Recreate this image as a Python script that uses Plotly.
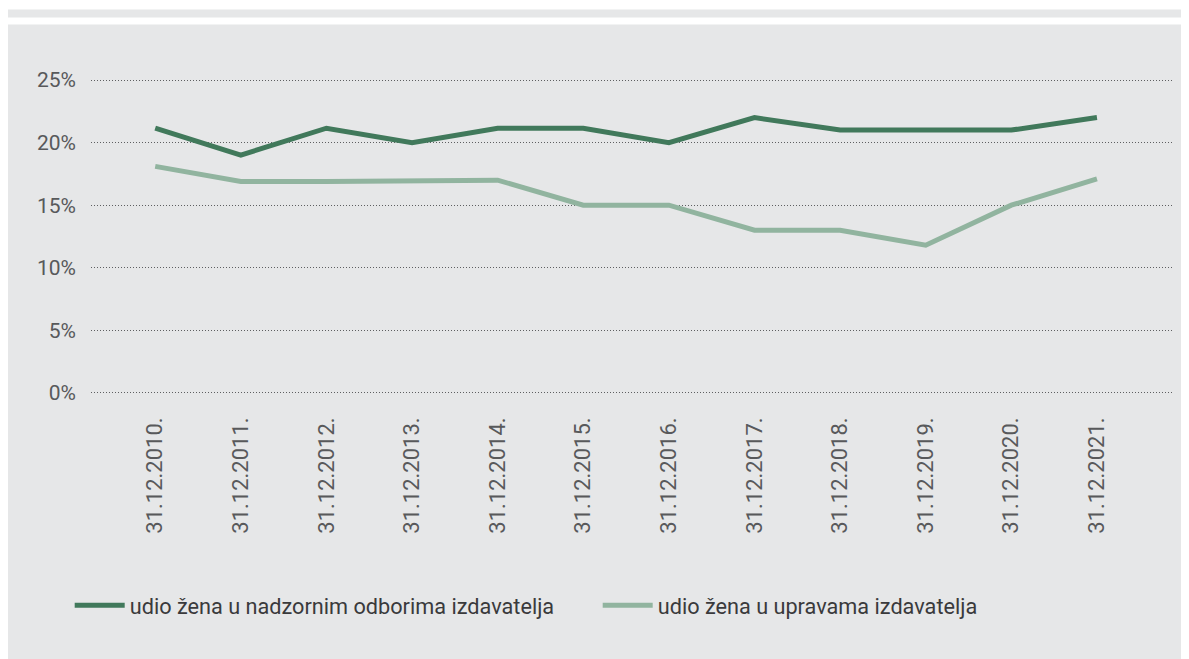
import plotly.graph_objects as go

categories = ["31.12.2010.", "31.12.2011.", "31.12.2012.", "31.12.2013.", "31.12.2014.", "31.12.2015.",
              "31.12.2016.", "31.12.2017.", "31.12.2018.", "31.12.2019.", "31.12.2020.", "31.12.2021."]
nadzorni = [21.15, 19, 21.15, 20, 21.15, 21.15, 20, 22, 21, 21, 21, 22]
uprave = [18.1, 16.9, 16.9, 16.95, 17.0, 15.0, 15.0, 13.0, 13.0, 11.8, 15.0, 17.1]
ytick_vals = [0, 5, 10, 15, 20, 25]
ytick_text = ["0%", "5%", "10%", "15%", "20%", "25%"]
names = ["udio žena u nadzornim odborima izdavatelja", "udio žena u upravama izdavatelja"]

# page body has an 8px margin, so the figure is drawn 8px in from the window edge
W, H = 1181, 651
L, R, T, B = 83, 15, 66.5, 261
PW, PH = W - L - R, H - T - B
BOTTOM = H - B

def px_x(p):
    return (p - L) / PW

def px_y(p):
    return (BOTTOM - p) / PH

GRAY = "#e6e7e8"
DARK = "#41795b"
LIGHT = "#91b49f"
TEXT = "#58595b"
FONT = "Roboto"

fig = go.Figure()
fig.add_trace(go.Scatter(x=categories, y=nadzorni, mode="lines", name=names[0],
                         line=dict(color=DARK, width=5)))
fig.add_trace(go.Scatter(x=categories, y=uprave, mode="lines", name=names[1],
                         line=dict(color=LIGHT, width=5)))

fig.add_shape(type="rect", xref="paper", yref="paper", layer="below",
              x0=px_x(0), x1=px_x(W + 5), y0=px_y(H + 5), y1=px_y(16),
              fillcolor=GRAY, line=dict(width=0))
fig.add_shape(type="rect", xref="paper", yref="paper", layer="below",
              x0=px_x(0), x1=px_x(W + 5), y0=px_y(9), y1=px_y(1),
              fillcolor=GRAY, line=dict(width=0))

fig.update_layout(
    width=W, height=H,
    margin=dict(l=L, r=R, t=T, b=B, pad=0),
    paper_bgcolor="white",
    plot_bgcolor="rgba(0,0,0,0)",
    font=dict(family=FONT, color=TEXT, size=20),
    showlegend=True,
    legend=dict(orientation="h", x=px_x(61.7), xanchor="left", y=px_y(598), yanchor="middle",
                font=dict(family=FONT, size=21.7, color="#3a3a3c"), bgcolor="rgba(0,0,0,0)",
                entrywidth=463, entrywidthmode="pixels", itemwidth=50),
    xaxis=dict(type="category", range=[-0.75, 11.9], showgrid=False, zeroline=False,
               showline=False, ticks="", tickangle=-90,
               tickfont=dict(family=FONT, size=22, color=TEXT), ticklabelstandoff=14),
    yaxis=dict(range=[-0.4, 25.4], tickvals=ytick_vals, ticktext=ytick_text,
               showgrid=True, gridcolor="#5e5f61", gridwidth=1, griddash="1px,2px",
               zeroline=False, showline=False, ticks="",
               tickfont=dict(family=FONT, size=21, color=TEXT), ticklabelstandoff=14),
)

fig.write_html("out.html")
